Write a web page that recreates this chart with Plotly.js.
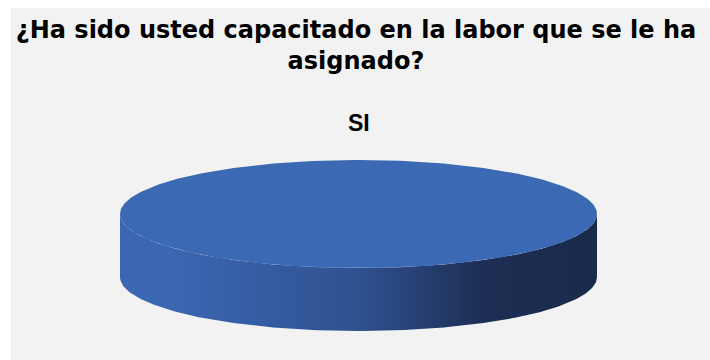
<!DOCTYPE html>
<html>
<head>
<meta charset="utf-8">
<script src="https://cdn.plot.ly/plotly-3.0.1.min.js"></script>
<style>html,body{margin:0;padding:0;background:#fff}</style>
</head>
<body>
<div id="chart" style="width:710px;height:360px"></div>
<script>
// Survey answer counts (share of respondents)
const categories = ['SI'];
const values = [100];

const titleText = '¿Ha sido usted capacitado en la labor que se le ha<br>asignado?';

// Styling per slice: flat colour for the top face, shaded ramp for the rim
const topColors = ['#3c69b4'];
const rimScales = [[
  [0, '#3b67b2'], [0.1, '#3b67b2'], [0.5, '#2f5190'], [0.76, '#1c2e53'], [1, '#1a2a4b']
]];

// Disc geometry in pixels: centre, radii and thickness of the tilted pie
const W = 710, H = 360;
const CX = 358.5, CY = 214, RX = 238.5, RY = 54, DEPTH = 63;
// One x unit = RX px, one y unit = RY px, so the unit circle draws as the ellipse
const xRange = [-CX / RX, (W - CX) / RX];
const yRange = [-(H - CY) / RY, CY / RY];
const thick = DEPTH / RY;

function arc(t0, t1, dy) {
  const pts = {x: [], y: []};
  const n = Math.max(8, Math.ceil(Math.abs(t1 - t0) / (Math.PI / 180)));
  for (let k = 0; k <= n; k++) {
    const t = t0 + (t1 - t0) * k / n;
    pts.x.push(Math.cos(t));
    pts.y.push(Math.sin(t) + dy);
  }
  return pts;
}

const total = values.reduce((a, b) => a + b, 0);
const rims = [], tops = [], labels = [];
let cum = 0;
values.forEach((v, i) => {
  // slices start at 12 o'clock and run clockwise
  const a0 = Math.PI / 2 - 2 * Math.PI * cum / total;
  const a1 = Math.PI / 2 - 2 * Math.PI * (cum + v) / total;
  cum += v;

  // visible rim: the part of the slice's arc on the front half of the disc
  for (let k = -1; k <= 1; k++) {
    const lo = Math.max(a1, -Math.PI + 2 * Math.PI * k);
    const hi = Math.min(a0, 2 * Math.PI * k);
    if (hi <= lo) continue;
    const up = arc(lo, hi, 0), dn = arc(hi, lo, -thick);
    rims.push({
      type: 'scatter', mode: 'lines', hoverinfo: 'skip', showlegend: false,
      x: up.x.concat(dn.x), y: up.y.concat(dn.y),
      fill: 'toself', line: {width: 0},
      fillgradient: {type: 'horizontal', colorscale: rimScales[i % rimScales.length]}
    });
  }

  // top face of the slice
  const face = arc(a0, a1, 0);
  const full = v >= total;
  tops.push({
    type: 'scatter', mode: 'lines', hoverinfo: 'skip', showlegend: false,
    x: full ? face.x : [0].concat(face.x, [0]),
    y: full ? face.y : [0].concat(face.y, [0]),
    fill: 'toself', fillcolor: topColors[i % topColors.length], line: {width: 0}
  });

  labels.push({
    x: 0, y: 1.69, xref: 'x', yref: 'y', showarrow: false,
    text: categories[i],
    font: {family: 'Liberation Sans, Arial, sans-serif', size: 23, color: '#000000', weight: 'bold'}
  });
});

const layout = {
  width: W, height: H, autosize: false,
  margin: {l: 0, r: 0, t: 0, b: 0, pad: 0},
  paper_bgcolor: '#ffffff', plot_bgcolor: 'rgba(0,0,0,0)',
  showlegend: false,
  title: {
    text: titleText,
    x: 356 / W, xanchor: 'center', xref: 'container',
    y: 1 - 38 / H, yanchor: 'top', yref: 'container',
    font: {family: 'DejaVu Sans, sans-serif', size: 24, color: '#000000', weight: 'bold'}
  },
  xaxis: {range: xRange, visible: false, fixedrange: true},
  yaxis: {range: yRange, visible: false, fixedrange: true},
  shapes: [{
    type: 'rect', xref: 'paper', yref: 'paper', layer: 'below',
    x0: 11 / W, x1: 1, y0: 0, y1: 1 - 8 / H,
    fillcolor: '#f2f2f2', line: {width: 0}
  }],
  annotations: labels
};

Plotly.newPlot('chart', rims.concat(tops), layout, {staticPlot: true, displayModeBar: false});
</script>
</body>
</html>
